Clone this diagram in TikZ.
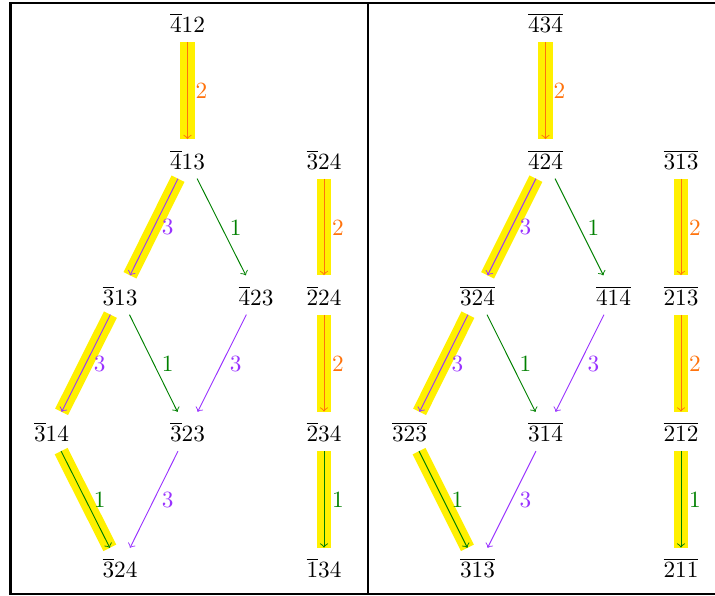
\documentclass[tikz,border=0pt]{standalone}
\usetikzlibrary{arrows}
\definecolor{OneClr}{rgb}{0,0.5,0}
\definecolor{TwoClr}{rgb}{1,0.45,0.05}
\definecolor{ThreeClr}{rgb}{0.6,0.2,1}
\definecolor{HiClr}{rgb}{1,0.94,0}

\begin{document}
\begin{tikzpicture}[x=0.43pt,y=-0.43pt,
  vtx/.style={text height=8.5pt,text depth=0pt},
  edge/.style={->,shorten <=0.5pt,shorten >=1pt},
  hl/.style={preaction={draw=HiClr,line width=6.2pt,-}},
  one/.style={edge,draw=OneClr},
  two/.style={edge,draw=TwoClr},
  three/.style={edge,draw=ThreeClr},
  lone/.style={midway,right,text=OneClr},
  ltwo/.style={midway,right,text=TwoClr},
  lthree/.style={midway,right,text=ThreeClr}]
\useasboundingbox (0,0) rectangle (715,596);

% frame
\draw[line width=1pt] (10.5,3) rectangle (725.5,594);
\draw[line width=1pt] (368,3) -- (368,594);

% left panel
\node[vtx] (p412) at (187.5,23) {$\overline{4}12$};
\node[vtx] (p413) at (187.5,159.5) {$\overline{4}13$};
\node[vtx] (p324) at (324,159.5) {$\overline{3}24$};
\node[vtx] (p313) at (120,295.5) {$\overline{3}13$};
\node[vtx] (p423) at (256,295.5) {$\overline{4}23$};
\node[vtx] (p224) at (324,295.5) {$\overline{2}24$};
\node[vtx] (p314) at (51.5,432) {$\overline{3}14$};
\node[vtx] (p323) at (187.5,432) {$\overline{3}23$};
\node[vtx] (p234) at (324,432) {$\overline{2}34$};
\node[vtx] (p324b) at (120,568) {$\overline{3}24$};
\node[vtx] (p134) at (324,568) {$\overline{1}34$};

\draw[two,hl] (p412) -- node[ltwo]{2} (p413);
\draw[three,hl] (p413) -- node[lthree]{3} (p313);
\draw[one] (p413) -- node[lone]{1} (p423);
\draw[three,hl] (p313) -- node[lthree]{3} (p314);
\draw[one] (p313) -- node[lone]{1} (p323);
\draw[three] (p423) -- node[lthree]{3} (p323);
\draw[one,hl] (p314) -- node[lone]{1} (p324b);
\draw[three] (p323) -- node[lthree]{3} (p324b);
\draw[two,hl] (p324) -- node[ltwo]{2} (p224);
\draw[two,hl] (p224) -- node[ltwo]{2} (p234);
\draw[one,hl] (p234) -- node[lone]{1} (p134);

% right panel
\node[vtx] (q434) at (545.5,23) {$\overline{434}$};
\node[vtx] (q424) at (545.5,159.5) {$\overline{424}$};
\node[vtx] (q313) at (681,159.5) {$\overline{313}$};
\node[vtx] (q324) at (477.5,295.5) {$\overline{324}$};
\node[vtx] (q414) at (613.5,295.5) {$\overline{414}$};
\node[vtx] (q213) at (681,295.5) {$\overline{213}$};
\node[vtx] (q323) at (409.5,432) {$\overline{323}$};
\node[vtx] (q314) at (545.5,432) {$\overline{314}$};
\node[vtx] (q212) at (681,432) {$\overline{212}$};
\node[vtx] (q313b) at (477.5,568) {$\overline{313}$};
\node[vtx] (q211) at (681,568) {$\overline{211}$};

\draw[two,hl] (q434) -- node[ltwo]{2} (q424);
\draw[three,hl] (q424) -- node[lthree]{3} (q324);
\draw[one] (q424) -- node[lone]{1} (q414);
\draw[three,hl] (q324) -- node[lthree]{3} (q323);
\draw[one] (q324) -- node[lone]{1} (q314);
\draw[three] (q414) -- node[lthree]{3} (q314);
\draw[one,hl] (q323) -- node[lone]{1} (q313b);
\draw[three] (q314) -- node[lthree]{3} (q313b);
\draw[two,hl] (q313) -- node[ltwo]{2} (q213);
\draw[two,hl] (q213) -- node[ltwo]{2} (q212);
\draw[one,hl] (q212) -- node[lone]{1} (q211);

\end{tikzpicture}
\end{document}
